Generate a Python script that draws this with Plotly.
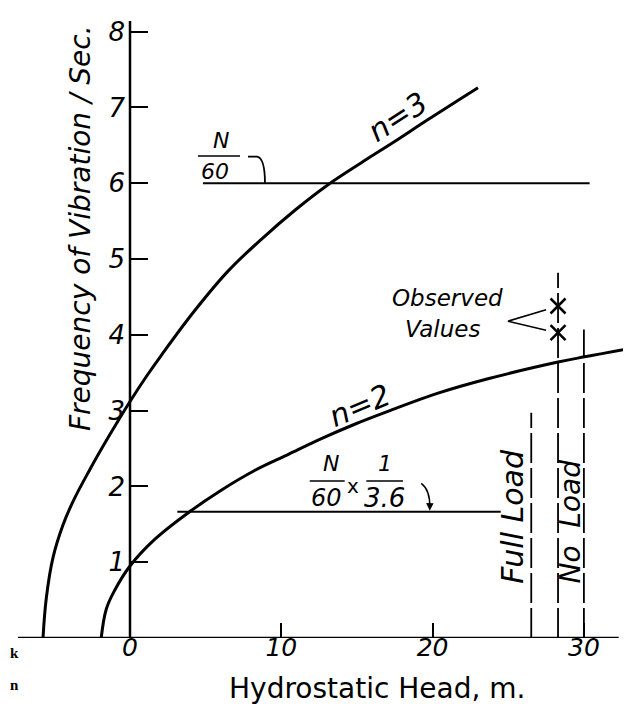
import plotly.graph_objects as go

# ---- data ----
n3_head = [-5.75, -5.53, -5.09, -4.43, -3.77, -2.66, -1.34, 0.0, 1.08, 2.07, 4.28, 6.48, 8.68, 10.88, 13.09, 15.29, 17.49, 19.70, 23.0]
n3_freq = [0.0, 0.53, 1.06, 1.49, 1.80, 2.22, 2.68, 3.12, 3.45, 3.73, 4.32, 4.84, 5.26, 5.64, 5.98, 6.27, 6.55, 6.84, 7.26]

n2_head = [-1.90, -1.57, -1.01, 0.0, 1.63, 3.83, 6.03, 8.24, 10.44, 12.65, 14.85, 17.05, 20.36, 23.66, 28.29, 30.05, 33.58]
n2_freq = [0.0, 0.38, 0.63, 0.95, 1.30, 1.65, 1.95, 2.21, 2.42, 2.63, 2.82, 2.99, 3.23, 3.42, 3.64, 3.71, 3.84]

obs_head = [28.29, 28.29]
obs_freq = [4.38, 4.03]

n60_head = [4.82, 30.38]
n60_freq = [6.0, 6.0]
n60r_head = [3.13, 24.5]
n60r_freq = [1.667, 1.667]

full_load_head = 26.52
full_load_top = 2.97
no_load_heads = [28.29, 30.0]
no_load_tops = [4.82, 4.07]

x_ticks = [0, 10, 20, 30]
y_ticks = [1, 2, 3, 4, 5, 6, 7, 8]

FONT = "DejaVu Sans"
fig = go.Figure()

curve_style = dict(color="black", width=3)
fig.add_trace(go.Scatter(x=n3_head, y=n3_freq, mode="lines", line=dict(shape="spline", smoothing=1.1, **curve_style), cliponaxis=False))
fig.add_trace(go.Scatter(x=n2_head, y=n2_freq, mode="lines", line=dict(shape="spline", smoothing=1.1, **curve_style), cliponaxis=False))
fig.add_trace(go.Scatter(x=n60_head, y=n60_freq, mode="lines", line=dict(color="black", width=2)))
fig.add_trace(go.Scatter(x=n60r_head, y=n60r_freq, mode="lines", line=dict(color="black", width=2)))

# vertical dashed load lines
for hx, top in zip([full_load_head] + no_load_heads, [full_load_top] + no_load_tops):
    fig.add_trace(go.Scatter(x=[hx, hx], y=[0, top], mode="lines",
                             line=dict(color="black", width=1.8, dash="30px,5px")))

fig.add_trace(go.Scatter(x=obs_head, y=obs_freq, mode="markers",
                         marker=dict(symbol="x-thin", size=15, line=dict(color="black", width=2.5))))

# leader lines for "Observed Values"
fig.add_trace(go.Scatter(x=[27.5, 24.98, 27.5], y=[4.33, 4.18, 4.06], mode="lines",
                         line=dict(color="black", width=1.5)))

# axes lines
fig.add_shape(type="line", x0=-7.4, x1=32.3, y0=0, y1=0, line=dict(color="black", width=2.5))
fig.add_shape(type="line", x0=0, x1=0, y0=0, y1=8.14, line=dict(color="black", width=2.5))

# fraction bars
fig.add_shape(type="line", x0=4.49, x1=7.27, y0=6.36, y1=6.36, line=dict(color="black", width=1.5))
fig.add_shape(type="line", x0=11.88, x1=14.19, y0=2.07, y1=2.07, line=dict(color="black", width=1.5))
fig.add_shape(type="line", x0=15.62, x1=18.04, y0=2.07, y1=2.07, line=dict(color="black", width=1.5))
# hook for N/60
fig.add_shape(type="path", path="M 7.8,6.35 L 8.4,6.35 Q 8.92,6.33 8.92,6.0",
              line=dict(color="black", width=1.8))
# curved arrow for N/60 x 1/3.6
fig.add_shape(type="path", path="M 19.25,2.04 Q 19.85,1.95 19.81,1.72",
              line=dict(color="black", width=1.5))

ann = []
def txt(x, y, s, size=22, angle=0, xanchor="center", italic=True, font=FONT, xref="x", yref="y", weight="normal"):
    ann.append(dict(x=x, y=y, xref=xref, yref=yref, text=s, showarrow=False, textangle=angle,
                    xanchor=xanchor, yanchor="middle",
                    font=dict(family=font, size=size, color="black", weight=weight,
                              style="italic" if italic else "normal")))

txt(6.01, 6.56, "N", 22)
txt(5.62, 6.15, "60", 22)
txt(13.30, 2.30, "N", 22)
txt(12.97, 1.85, "60", 24)
txt(14.74, 2.0, "x", 20, italic=False)
txt(16.83, 2.30, "1", 22)
txt(16.83, 1.85, "3.6", 26)
txt(17.71, 6.88, "n=3", 30, angle=-33)
txt(15.18, 3.07, "n=2", 30, angle=-23)
txt(17.16, 4.49, "Observed", 23, xanchor="left")
txt(18.04, 4.08, "Values", 23, xanchor="left")
txt(25.3, 1.61, "Full Load", 30, angle=-90)
txt(29.1, 1.54, "No  Load", 28, angle=-90)
txt(72 / 631, (630 - 220) / 630, "Frequency of Vibration / Sec.", 28, angle=-90, xref="paper", yref="paper")
txt(369 / 631, (630 - 680) / 630, "Hydrostatic Head, m.", 28, italic=False, xref="paper", yref="paper")
txt(0, (630 - 645) / 630, "k", 15, xanchor="left", italic=False, font="Liberation Serif",
    xref="paper", yref="paper", weight="bold")
txt(0, (630 - 677) / 630, "n", 15, xanchor="left", italic=False, font="Liberation Serif",
    xref="paper", yref="paper", weight="bold")

# arrowhead for the lower label
ann.append(dict(x=19.81, y=1.68, ax=19.82, ay=1.80, xref="x", yref="y", axref="x", ayref="y",
                text="", showarrow=True, arrowhead=2, arrowsize=1, arrowwidth=1.5, arrowcolor="black"))

fig.update_layout(
    width=631, height=706,
    margin=dict(l=0, r=0, t=0, b=76),
    paper_bgcolor="white", plot_bgcolor="white",
    showlegend=False,
    annotations=ann,
    xaxis=dict(range=[-122 / 15.13, (631 - 122) / 15.13], showgrid=False, zeroline=False, showline=False,
               tickvals=x_ticks, ticktext=[str(v) for v in x_ticks], ticks="inside", ticklen=15, tickwidth=2,
               tickcolor="black", ticklabelstandoff=-8,
               tickfont=dict(family=FONT, size=25, color="black", style="italic")),
    yaxis=dict(range=[0, 630 / 75.8], showgrid=False, zeroline=False, showline=False,
               anchor="free", position=122 / 631,
               tickvals=y_ticks, ticktext=[str(v) for v in y_ticks], ticks="inside", ticklen=17, tickwidth=2,
               tickcolor="black", ticklabelstandoff=5,
               tickfont=dict(family=FONT, size=26, color="black", style="italic")),
)

fig.write_html("out.html")
